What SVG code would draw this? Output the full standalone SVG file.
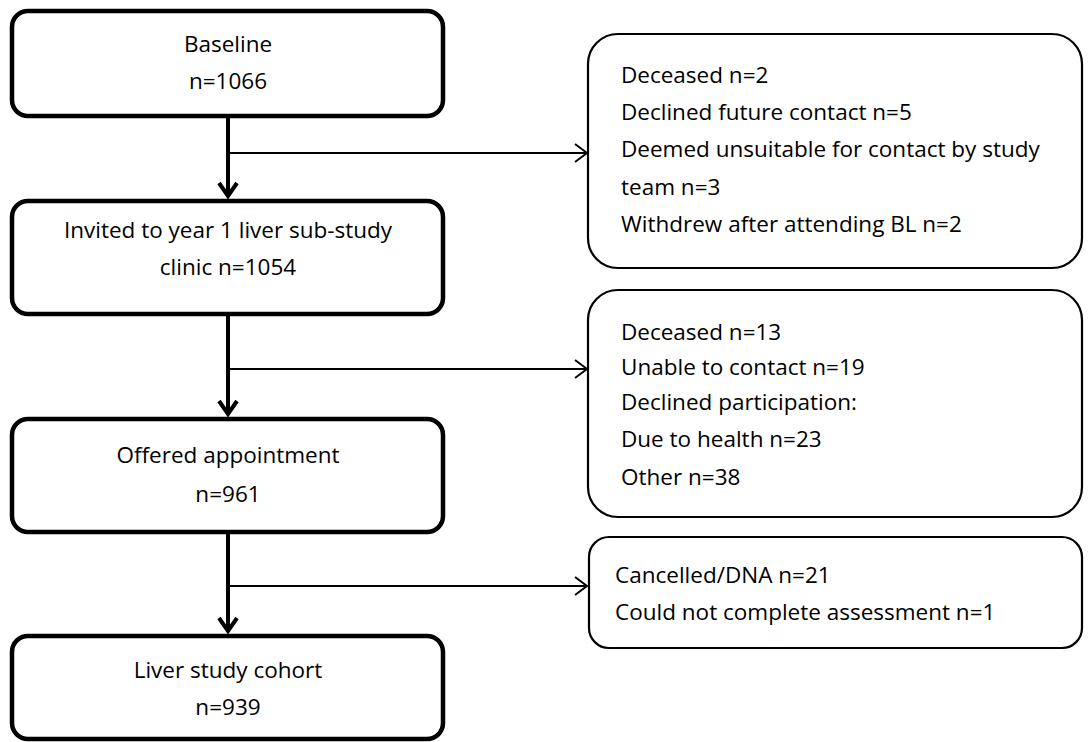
<svg xmlns="http://www.w3.org/2000/svg" width="1091" height="742" viewBox="0 0 1091 742">
  <style>
    .main { fill: #fff; stroke: #000; stroke-width: 4.5; }
    .side { fill: #fff; stroke: #000; stroke-width: 2.2; }
    text { font-family: "Open Sans", "Liberation Sans", sans-serif; font-size: 22.5px; fill: #000; }
    .c { text-anchor: middle; }
    .flow { stroke: #000; stroke-width: 4; fill: none; }
    .branch { stroke: #000; stroke-width: 2; fill: none; }
  </style>
  <defs>
    <marker id="bigHead" markerUnits="userSpaceOnUse" viewBox="-16 -14 20 28" refX="0" refY="0" markerWidth="20" markerHeight="28" orient="auto">
      <path d="M-13,-9 L0,0 L-13,9" fill="none" stroke="#000" stroke-width="4"/>
    </marker>
    <marker id="smallHead" markerUnits="userSpaceOnUse" viewBox="-15 -12 17 24" refX="0" refY="0" markerWidth="17" markerHeight="24" orient="auto">
      <path d="M-12,-9 L0,0 L-12,9" fill="none" stroke="#000" stroke-width="2"/>
    </marker>
  </defs>

  <!-- connectors -->
  <g id="connectors">
    <line class="flow" x1="228" y1="117" x2="228" y2="196" marker-end="url(#bigHead)"/>
    <line class="branch" x1="228" y1="153" x2="587" y2="153" marker-end="url(#smallHead)"/>
    <line class="flow" x1="228" y1="316" x2="228" y2="414" marker-end="url(#bigHead)"/>
    <line class="branch" x1="228" y1="369" x2="587" y2="369" marker-end="url(#smallHead)"/>
    <line class="flow" x1="228" y1="534" x2="228" y2="631" marker-end="url(#bigHead)"/>
    <line class="branch" x1="228" y1="586" x2="587" y2="586" marker-end="url(#smallHead)"/>
  </g>

  <!-- main flow boxes -->
  <g id="baseline">
    <rect class="main" x="12" y="11" width="431" height="105" rx="16"/>
    <text class="c" x="228" y="52">Baseline</text>
    <text class="c" x="228" y="89">n=1066</text>
  </g>
  <g id="invited">
    <rect class="main" x="12" y="201" width="431" height="113" rx="16"/>
    <text class="c" x="228" y="238">Invited to year 1 liver sub-study</text>
    <text class="c" x="228" y="275">clinic n=1054</text>
  </g>
  <g id="offered">
    <rect class="main" x="12" y="419" width="431" height="113" rx="16"/>
    <text class="c" x="228" y="463">Offered appointment</text>
    <text class="c" x="228" y="502">n=961</text>
  </g>
  <g id="cohort">
    <rect class="main" x="12" y="636" width="431" height="103" rx="16"/>
    <text class="c" x="228" y="678">Liver study cohort</text>
    <text class="c" x="228" y="715">n=939</text>
  </g>

  <!-- exclusion boxes -->
  <g id="excluded-1">
    <rect class="side" x="588" y="34" width="494" height="234" rx="30"/>
    <text x="621" y="83">Deceased n=2</text>
    <text x="621" y="120">Declined future contact n=5</text>
    <text x="621" y="157">Deemed unsuitable for contact by study</text>
    <text x="621" y="195">team n=3</text>
    <text x="621" y="232">Withdrew after attending BL n=2</text>
  </g>
  <g id="excluded-2">
    <rect class="side" x="588" y="290" width="494" height="227" rx="30"/>
    <text x="621" y="340">Deceased n=13</text>
    <text x="621" y="375">Unable to contact n=19</text>
    <text x="621" y="410">Declined participation:</text>
    <text x="621" y="447">Due to health n=23</text>
    <text x="621" y="485">Other n=38</text>
  </g>
  <g id="excluded-3">
    <rect class="side" x="589" y="537" width="493" height="111" rx="20"/>
    <text x="615" y="583">Cancelled/DNA n=21</text>
    <text x="615" y="620">Could not complete assessment n=1</text>
  </g>
</svg>
